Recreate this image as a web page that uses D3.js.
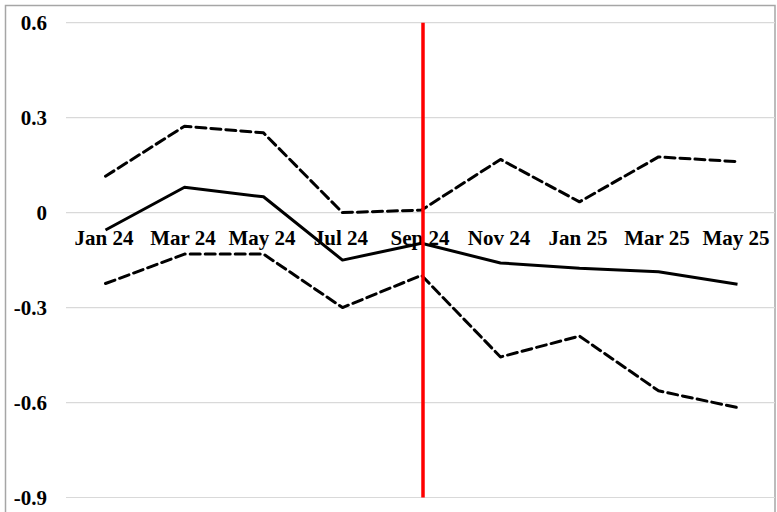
<!DOCTYPE html>
<html>
<head>
<meta charset="utf-8">
<script src="https://cdn.jsdelivr.net/npm/d3@7/dist/d3.min.js"></script>
<style>
html,body{margin:0;padding:0;background:#fff;}
svg{display:block;}
text{font-family:"Liberation Serif","Times New Roman",serif;font-weight:bold;fill:#000;}
</style>
</head>
<body>
<svg id="chart" width="777" height="512"></svg>
<script>
const categories = ["Jan 24","Mar 24","May 24","Jul 24","Sep 24","Nov 24","Jan 25","Mar 25","May 25"];
const centralValues = [-0.055, 0.080, 0.050, -0.150, -0.097, -0.159, -0.176, -0.187, -0.226];
const upperValues = [0.115, 0.273, 0.252, 0.000, 0.008, 0.168, 0.034, 0.176, 0.161];
const lowerValues = [-0.224, -0.131, -0.131, -0.300, -0.198, -0.456, -0.390, -0.563, -0.616];
const yTicks = [0.6, 0.3, 0, -0.3, -0.6, -0.9];
const yTickLabels = ["0.6", "0.3", "0", "-0.3", "-0.6", "-0.9"];
const markerCategory = "Sep 24";

const svg = d3.select("#chart");

// outer frame
svg.append("rect")
  .attr("x", 5.5).attr("y", 5.5)
  .attr("width", 769.5).attr("height", 520)
  .attr("fill", "none").attr("stroke", "#a6a6a6").attr("stroke-width", 1.5);

const x = d3.scalePoint().domain(categories).range([66, 777]).padding(0.5);
const y = d3.scaleLinear().domain([-0.9, 0.6]).range([497.5, 22.7]);

// gridlines
svg.append("g").selectAll("line").data(yTicks).join("line")
  .attr("x1", 66).attr("x2", 775)
  .attr("y1", d => y(d)).attr("y2", d => y(d))
  .attr("stroke", "#d9d9d9").attr("stroke-width", 1.2);

// y tick labels
svg.append("g").selectAll("text").data(yTicks).join("text")
  .attr("x", 47).attr("y", d => y(d))
  .attr("text-anchor", "end").attr("dominant-baseline", "central")
  .style("font-size", "21px")
  .text((d, i) => yTickLabels[i]);

// category labels
svg.append("g").selectAll("text").data(categories).join("text")
  .attr("x", d => x(d) - 1.5).attr("y", y(0) + 32)
  .attr("text-anchor", "middle")
  .style("font-size", "21px")
  .text(d => d);

const line = d3.line().x((d, i) => x(categories[i])).y(d => y(d));

svg.append("path").datum(upperValues)
  .attr("d", line).attr("fill", "none").attr("stroke", "#000")
  .attr("stroke-width", 3).attr("stroke-dasharray", "10,5")
  .attr("stroke-linejoin", "round").attr("stroke-linecap", "round");

svg.append("path").datum(lowerValues)
  .attr("d", line).attr("fill", "none").attr("stroke", "#000")
  .attr("stroke-width", 3).attr("stroke-dasharray", "10,5")
  .attr("stroke-linejoin", "round").attr("stroke-linecap", "round");

svg.append("path").datum(centralValues)
  .attr("d", line).attr("fill", "none").attr("stroke", "#000")
  .attr("stroke-width", 3).attr("stroke-linejoin", "round");

// red vertical marker
svg.append("line")
  .attr("x1", x(markerCategory) + 1.5).attr("x2", x(markerCategory) + 1.5)
  .attr("y1", y(0.6)).attr("y2", y(-0.9))
  .attr("stroke", "#ff0000").attr("stroke-width", 3.5);
</script>
</body>
</html>
